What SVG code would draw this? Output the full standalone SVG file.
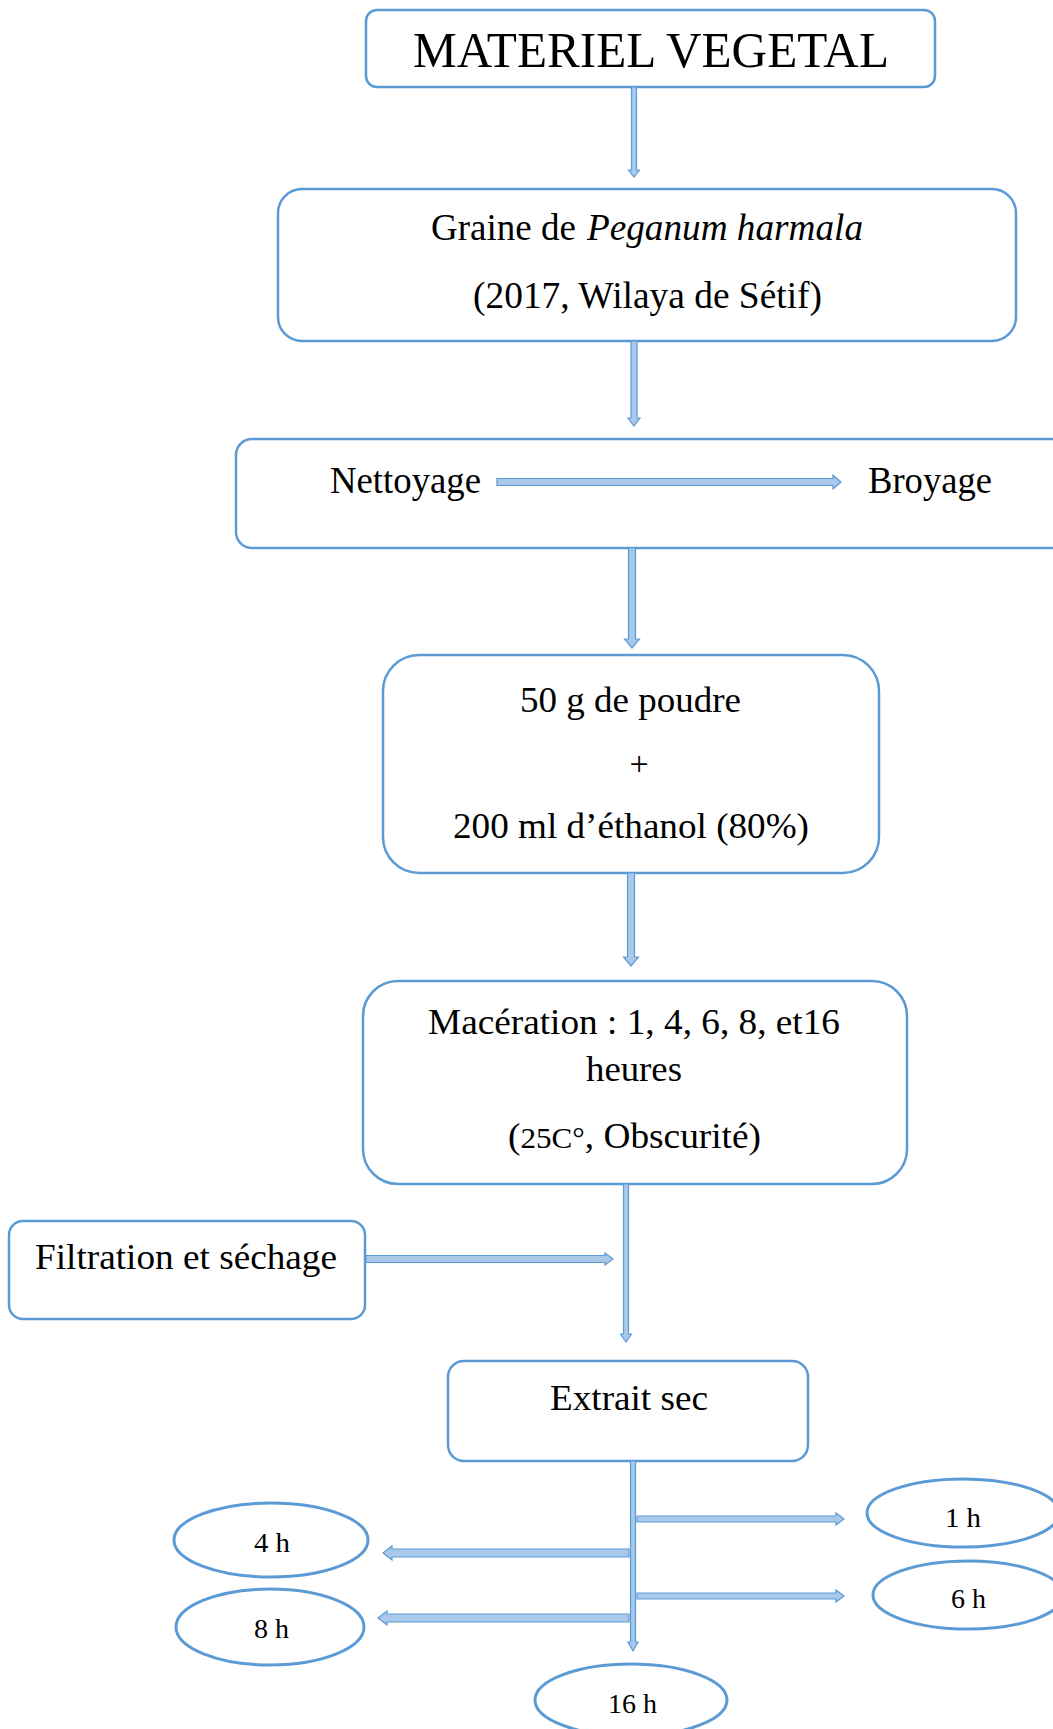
<svg xmlns="http://www.w3.org/2000/svg" width="1053" height="1729" viewBox="0 0 1053 1729">
<style>
.box{fill:#fff;stroke:#5B9BD5;stroke-width:2.5}
.ell{fill:#fff;stroke:#5B9BD5;stroke-width:3}
.arr{fill:#A9C8EA;stroke:#5B9BD5;stroke-width:1.2;stroke-linejoin:miter}
.t{font-family:"Liberation Serif","Times New Roman",serif;fill:#000}
</style>
<rect width="1053" height="1729" fill="#fff"/>
<g id="node-materiel">
<rect class="box" x="366" y="10" width="569" height="77" rx="11"/>
<text class="t" x="413" y="67" font-size="50" textLength="476" lengthAdjust="spacingAndGlyphs">MATERIEL VEGETAL</text>
</g>
<g id="node-graine">
<rect class="box" x="278" y="189" width="738" height="152" rx="24"/>
<text class="t" x="431" y="240" font-size="37" textLength="145" lengthAdjust="spacingAndGlyphs">Graine de</text>
<text class="t" x="587" y="240" font-size="37" font-style="italic" textLength="276" lengthAdjust="spacingAndGlyphs">Peganum harmala</text>
<text class="t" x="473" y="308" font-size="37" textLength="349" lengthAdjust="spacingAndGlyphs">(2017, Wilaya de Sétif)</text>
</g>
<g id="node-nettoyage">
<rect class="box" x="236" y="439" width="850" height="109" rx="16"/>
<text class="t" x="330" y="493" font-size="37" textLength="151" lengthAdjust="spacingAndGlyphs">Nettoyage</text>
<text class="t" x="868" y="493" font-size="37" textLength="124" lengthAdjust="spacingAndGlyphs">Broyage</text>
</g>
<g id="node-poudre">
<rect class="box" x="383" y="655" width="496" height="218" rx="36"/>
<text class="t" x="520" y="712" font-size="36" textLength="221" lengthAdjust="spacingAndGlyphs">50 g de poudre</text>
<text class="t" x="639" y="775" font-size="34" text-anchor="middle">+</text>
<text class="t" x="453" y="838" font-size="36" textLength="356" lengthAdjust="spacingAndGlyphs">200 ml d’éthanol (80%)</text>
</g>
<g id="node-maceration">
<rect class="box" x="363" y="981" width="544" height="203" rx="35"/>
<text class="t" x="428" y="1034" font-size="36" textLength="412" lengthAdjust="spacingAndGlyphs">Macération : 1, 4, 6, 8, et16</text>
<text class="t" x="586" y="1081" font-size="36" textLength="96" lengthAdjust="spacingAndGlyphs">heures</text>
<text class="t" x="508" y="1148" font-size="36" textLength="253" lengthAdjust="spacingAndGlyphs">(<tspan font-size="30">25C°</tspan>, Obscurité)</text>
</g>
<g id="node-filtration">
<rect class="box" x="9" y="1221" width="356" height="98" rx="14"/>
<text class="t" x="35" y="1269" font-size="36" textLength="302" lengthAdjust="spacingAndGlyphs">Filtration et séchage</text>
</g>
<g id="node-extrait">
<rect class="box" x="448" y="1361" width="360" height="100" rx="16"/>
<text class="t" x="550" y="1410" font-size="36" textLength="158" lengthAdjust="spacingAndGlyphs">Extrait sec</text>
</g>
<g id="node-1h">
<ellipse class="ell" cx="963" cy="1513" rx="96" ry="34"/>
<text class="t" x="945" y="1527" font-size="28" textLength="36" lengthAdjust="spacingAndGlyphs">1 h</text>
</g>
<g id="node-4h">
<ellipse class="ell" cx="271" cy="1540" rx="97" ry="37"/>
<text class="t" x="254" y="1552" font-size="28" textLength="36" lengthAdjust="spacingAndGlyphs">4 h</text>
</g>
<g id="node-6h">
<ellipse class="ell" cx="968" cy="1595" rx="95" ry="34"/>
<text class="t" x="951" y="1608" font-size="28" textLength="35" lengthAdjust="spacingAndGlyphs">6 h</text>
</g>
<g id="node-8h">
<ellipse class="ell" cx="270" cy="1627" rx="94" ry="38"/>
<text class="t" x="254" y="1638" font-size="28" textLength="35" lengthAdjust="spacingAndGlyphs">8 h</text>
</g>
<g id="node-16h">
<ellipse class="ell" cx="631" cy="1700" rx="96" ry="36"/>
<text class="t" x="608" y="1713" font-size="28" textLength="49" lengthAdjust="spacingAndGlyphs">16 h</text>
</g>
<g id="connectors">
<polygon class="arr" points="631.5,87 636.5,87 636.5,170 639.5,170 634,177 628.5,170 631.5,170"/>
<polygon class="arr" points="631,341 637,341 637,418 640,418 634,426 628,418 631,418"/>
<polygon class="arr" points="628.5,548 635.5,548 635.5,639 639.5,639 632,648 624.5,639 628.5,639"/>
<polygon class="arr" points="627.5,873 634.5,873 634.5,957 638.5,957 631,966 623.5,957 627.5,957"/>
<polygon class="arr" points="623.5,1184 628.5,1184 628.5,1334 631.5,1334 626,1342 620.5,1334 623.5,1334"/>
<polygon class="arr" points="630.5,1461 635.5,1461 635.5,1642 638,1642 633,1651 628,1642 630.5,1642"/>
<polygon class="arr" points="497,478.5 833,478.5 833,475 841,482 833,489 833,485.5 497,485.5"/>
<polygon class="arr" points="366,1255.5 605,1255.5 605,1253 613,1259 605,1265 605,1262.5 366,1262.5"/>
<polygon class="arr" points="637,1516 836,1516 836,1513 844,1519 836,1525 836,1522 637,1522"/>
<polygon class="arr" points="637,1593 836,1593 836,1590 844,1596 836,1602 836,1599 637,1599"/>
<polygon class="arr" points="629,1549 392,1549 392,1546 383,1553 392,1560 392,1557 629,1557"/>
<polygon class="arr" points="629,1614 387,1614 387,1611 378,1618 387,1625 387,1622 629,1622"/>
</g>
</svg>
